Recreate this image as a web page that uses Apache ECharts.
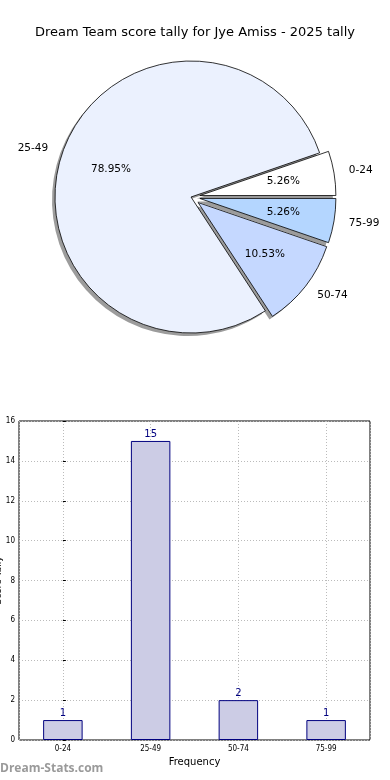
<!DOCTYPE html>
<html><head><meta charset="utf-8">
<script src="https://cdn.jsdelivr.net/npm/echarts@6/dist/echarts.min.js"></script>
<style>html,body{margin:0;padding:0;background:#fff}#c{width:390px;height:780px}</style>
</head><body><div id="c"></div>
<script>
const titleText = 'Dream Team score tally for Jye Amiss - 2025 tally';
const categories = ['0-24', '25-49', '50-74', '75-99'];
const counts = [1, 15, 2, 1];
const sliceColors = ['#FFFFFF', '#EBF1FE', '#C5D8FF', '#B4D6FF'];
const explodedFlags = [true, false, true, true];
const yTicksMax = 16;
const yTickStep = 2;
const xAxisName = 'Frequency';
const yAxisName = 'Score Tally';
const watermark = 'Dream-Stats.com';

const total = counts.reduce((a, b) => a + b, 0);
const FONT = 'DejaVu Sans';
const FONT_C = '"DejaVu Sans Condensed", "DejaVu Sans"';
const R = 136;
const CX = 191, CY = 197;

const pieData = categories.map((c, i) => ({
  name: c, value: counts[i], selected: explodedFlags[i],
  itemStyle: { color: sliceColors[i] }
}));
const plainData = categories.map((c, i) => ({
  name: c, value: counts[i], selected: explodedFlags[i]
}));

const chart = echarts.init(document.getElementById('c'), null, { renderer: 'canvas' });
chart.setOption({
  animation: false,
  backgroundColor: '#fff',
  title: {
    text: titleText, left: 'center', top: 21,
    textStyle: { fontFamily: FONT, fontSize: 13, fontWeight: 'normal', color: '#000' }
  },
  graphic: [{
    type: 'text', left: 0, top: 763,
    style: { text: watermark, font: 'bold 12px "Open Sans", "DejaVu Sans"', fill: '#9a9a9a' }
  }],
  grid: { left: 19, right: 20, top: 421, bottom: 40, containLabel: false, outerBoundsMode: 'none',
    show: true, borderColor: '#000', borderWidth: 1, backgroundColor: 'transparent' },
  xAxis: [{
    type: 'category', data: categories, gridIndex: 0,
    name: xAxisName, nameLocation: 'middle', nameGap: 17,
    nameTextStyle: { fontFamily: FONT, fontSize: 10, color: '#000' },
    axisLine: { show: false },
    axisTick: { show: true, alignWithLabel: true, inside: true, length: 3, lineStyle: { color: '#000' } },
    axisLabel: { fontFamily: FONT_C, fontSize: 8, color: '#000', margin: 5 },
    splitLine: { show: false }
  }, {
    type: 'value', min: -0.5, max: 3.5, gridIndex: 0, position: 'bottom',
    axisLine: { show: false }, axisTick: { show: false }, axisLabel: { show: false },
    splitLine: { show: true, lineStyle: { color: '#bbb', type: [1, 2], width: 1 } }
  }],
  yAxis: [{
    type: 'value', min: 0, max: yTicksMax, interval: yTickStep,
    name: yAxisName, nameLocation: 'middle', nameGap: 16, nameRotate: 90, nameMoveOverlap: false,
    nameTextStyle: { fontFamily: FONT, fontSize: 9, color: '#000' },
    axisLine: { show: false },
    axisTick: { show: true, inside: true, length: 3, lineStyle: { color: '#000' } },
    axisLabel: { fontFamily: FONT_C, fontSize: 8, color: '#000', margin: 4 },
    splitLine: { show: true, lineStyle: { color: '#bbb', type: [1, 2], width: 1 } }
  }],
  series: [{
    type: 'pie', center: [CX - 3, CY + 3], radius: [0, R],
    startAngle: 0, clockwise: false,
    selectedMode: 'multiple', selectedOffset: 9,
    data: plainData, silent: true, z: 1,
    itemStyle: { color: '#9c9c9c', borderWidth: 0 },
    label: { show: false }, labelLine: { show: false },
    emphasis: { disabled: true }
  }, {
    type: 'pie', center: [CX, CY], radius: [0, R],
    startAngle: 0, clockwise: false,
    selectedMode: 'multiple', selectedOffset: 9,
    data: pieData, silent: true, z: 2,
    itemStyle: { borderColor: '#000', borderWidth: 0.8 },
    label: { show: true, position: 'outside', formatter: '{b}', fontFamily: FONT, fontSize: 10.5, color: '#000', distanceToLabelLine: 0 },
    labelLine: { show: false, length: 15, length2: 0 },
    emphasis: { disabled: true }
  }, {
    type: 'pie', center: [CX, CY], radius: [0, R * 1.2],
    startAngle: 0, clockwise: false,
    selectedMode: 'multiple', selectedOffset: 9,
    data: plainData, silent: true, z: 5,
    itemStyle: { color: 'rgba(0,0,0,0)', borderWidth: 0 },
    label: { show: true, position: 'inner', formatter: p => (p.value / total * 100).toFixed(2) + '%', fontFamily: FONT, fontSize: 10.5, color: '#000' },
    labelLine: { show: false },
    emphasis: { disabled: true }
  }, {
    type: 'bar', xAxisIndex: 0, yAxisIndex: 0,
    data: counts, barWidth: '45%',
    itemStyle: { color: '#CCCCE5', borderColor: '#00007F', borderWidth: 1 },
    label: { show: true, position: 'top', distance: 2, fontFamily: FONT, fontSize: 10, color: '#00007F' },
    emphasis: { disabled: true }
  }]
});
</script></body></html>
